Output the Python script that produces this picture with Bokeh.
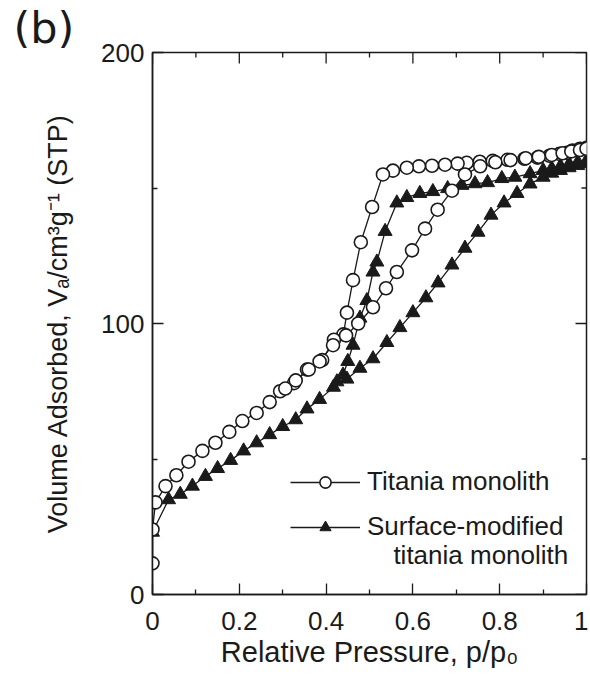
from bokeh.plotting import figure
from bokeh.models import FixedTicker, Range1d, Legend, LegendItem, Label, Title
from bokeh.embed import file_html
from bokeh.resources import INLINE

# ---- data ----
ti_ads_x = [0.0, 0.0, 0.007, 0.030, 0.055, 0.083, 0.115, 0.145, 0.177, 0.207, 0.240, 0.270,
            0.306, 0.330, 0.360, 0.385, 0.416, 0.446, 0.474, 0.508, 0.538, 0.563, 0.598, 0.628,
            0.657, 0.690, 0.720, 0.755, 0.790, 0.825, 0.860, 0.890, 0.920, 0.945, 0.965, 0.985, 1.0]
ti_ads_y = [11.5, 24, 34, 40, 44, 49, 53, 56, 60, 64, 67, 71,
            76, 79, 83, 86, 92, 95.6, 100, 106, 113, 119, 127, 135,
            142, 149, 155, 158, 159.5, 160.3, 161, 161.5, 162.2, 162.8, 163.5, 164, 164.5]

ti_des_x = [1.0, 0.985, 0.968, 0.955, 0.938, 0.915, 0.887, 0.857, 0.818, 0.784, 0.754, 0.724,
            0.703, 0.674, 0.644, 0.614, 0.586, 0.554, 0.531, 0.506, 0.480, 0.462, 0.448, 0.440,
            0.418, 0.391, 0.356, 0.326, 0.294]
ti_des_y = [164.8, 164.5, 163.8, 163, 162.6, 161.9, 161.2, 160.8, 160.4, 160, 159.7, 159.3,
            159, 158.6, 158.2, 158, 157.5, 156.4, 155, 143, 130, 116, 104, 96,
            94, 86.5, 83, 78, 75]

sm_ads_x = [0.0, 0.037, 0.064, 0.092, 0.122, 0.150, 0.180, 0.210, 0.240, 0.270, 0.300, 0.330,
            0.356, 0.385, 0.417, 0.448, 0.478, 0.508, 0.540, 0.570, 0.600, 0.630, 0.658, 0.690,
            0.720, 0.750, 0.780, 0.810, 0.840, 0.870, 0.900, 0.920, 0.940, 0.960, 0.980, 1.0]
sm_ads_y = [23, 35, 37, 40, 43.6, 46.5, 49.5, 53, 56, 59, 62, 64.5,
            68.5, 72, 76.5, 79.5, 83.5, 87, 93, 98.5, 104, 109.5, 115, 121.6,
            127.8, 133.7, 140, 144.5, 148, 151.5, 154, 155.5, 156.5, 157.5, 158.3, 159]

sm_des_x = [1.0, 0.98, 0.96, 0.94, 0.92, 0.90, 0.87, 0.835, 0.805, 0.772, 0.743, 0.713,
            0.680, 0.646, 0.616, 0.586, 0.563, 0.536, 0.517, 0.508, 0.494, 0.478, 0.462, 0.450,
            0.439, 0.425]
sm_des_y = [160, 159.5, 158.8, 158, 157.2, 156.5, 155.3, 154, 153.5, 152, 151.6, 151,
            149.8, 148.7, 148, 146.5, 144.5, 134, 122.7, 119, 108.5, 102, 92, 86,
            81, 78.5]

x_ticks = [0, 0.2, 0.4, 0.6, 0.8, 1.0]
x_tick_labels = ["0", "0.2", "0.4", "0.6", "0.8", "1"]
x_minor = [0.1, 0.3, 0.5, 0.7, 0.9]
y_ticks = [0, 100, 200]
y_tick_labels = ["0", "100", "200"]
y_minor = [50, 150]

series_names = ["Titania monolith", "Surface-modified", "titania monolith"]
x_title = "Relative Pressure, p/p\u2080"
y_title = "Volume Adsorbed, V\u2090/cm\u00b3g\u207b\u00b9 (STP)"
panel_tag = "(b)"

FONT = "Liberation Sans"
INK = "#1a1a1a"

W, H = 588, 670
BL, BR, BT, BB = 152, 2, 51, 73
X0, X1, Y0, Y1 = 0, 1, 0, 200
MAJ, MIN = 11, 5

p = figure(width=W, height=H, output_backend="svg", toolbar_location=None,
           x_range=Range1d(X0, X1), y_range=Range1d(Y0, Y1),
           min_border_left=BL, min_border_right=BR, min_border_top=BT, min_border_bottom=BB)
p.grid.visible = False
p.outline_line_color = INK
p.outline_line_width = 1.5
p.background_fill_color = "white"
p.border_fill_color = "white"

# panel tag "(b)" as the title
p.title.text = panel_tag
p.title.align = "left"
p.title.offset = -139
p.title.standoff = 0
p.title.text_font = "DejaVu Sans"
p.title.text_font_size = "43px"
p.title.text_font_style = "normal"
p.title.text_color = INK

def style_axis(ax, ticks, minor, labels):
    ax.ticker = FixedTicker(ticks=ticks, minor_ticks=minor)
    ax.major_tick_in = MAJ
    ax.major_tick_out = 0
    ax.minor_tick_in = MIN
    ax.minor_tick_out = 0
    ax.major_tick_line_color = INK
    ax.minor_tick_line_color = INK
    ax.major_tick_line_width = 1.3
    ax.minor_tick_line_width = 1.3
    ax.axis_line_color = INK
    ax.axis_line_width = 1.5
    ax.major_label_overrides = {t: l for t, l in zip(ticks, labels)}
    ax.major_label_text_font = FONT
    ax.major_label_text_font_size = "26px"
    ax.major_label_text_color = INK

style_axis(p.xaxis[0], x_ticks, x_minor, x_tick_labels)
style_axis(p.yaxis[0], y_ticks, y_minor, y_tick_labels)
p.xaxis.major_label_standoff = 17
p.yaxis.major_label_standoff = 8

p.xaxis.axis_label = x_title
p.xaxis.axis_label_text_font = FONT
p.xaxis.axis_label_text_font_size = "29px"
p.xaxis.axis_label_text_font_style = "normal"
p.xaxis.axis_label_text_color = INK
p.xaxis.axis_label_standoff = 3

# y label as a left title (so it can be shifted along the axis)
p.add_layout(Title(text=y_title, align="center", offset=62, standoff=52,
                   text_font=FONT, text_font_size="27px", text_font_style="normal",
                   text_color=INK), "left")

# inward ticks on the top and right edges
fw = W - BL - BR
fh = H - BT - BB
dy_maj = MAJ * (Y1 - Y0) / fh
dy_min = MIN * (Y1 - Y0) / fh
dx_maj = MAJ * (X1 - X0) / fw
dx_min = MIN * (X1 - X0) / fw
p.segment(x0=x_ticks, y0=[Y1] * len(x_ticks), x1=x_ticks, y1=[Y1 - dy_maj] * len(x_ticks),
          line_color=INK, line_width=1.3)
p.segment(x0=x_minor, y0=[Y1] * len(x_minor), x1=x_minor, y1=[Y1 - dy_min] * len(x_minor),
          line_color=INK, line_width=1.3)
p.segment(x0=[X1] * len(y_ticks), y0=y_ticks, x1=[X1 - dx_maj] * len(y_ticks), y1=y_ticks,
          line_color=INK, line_width=1.3)
p.segment(x0=[X1] * len(y_minor), y0=y_minor, x1=[X1 - dx_min] * len(y_minor), y1=y_minor,
          line_color=INK, line_width=1.3)

# ---- series ----
l1a = p.line(ti_ads_x, ti_ads_y, line_color=INK, line_width=1.3)
l1d = p.line(ti_des_x, ti_des_y, line_color=INK, line_width=1.3)
l2a = p.line(sm_ads_x, sm_ads_y, line_color=INK, line_width=1.3)
l2d = p.line(sm_des_x, sm_des_y, line_color=INK, line_width=1.3)
s2a = p.scatter(sm_ads_x, sm_ads_y, marker="triangle", size=14, fill_color=INK, line_color=INK, line_width=1)
s2d = p.scatter(sm_des_x, sm_des_y, marker="triangle", size=14, fill_color=INK, line_color=INK, line_width=1)
s1d = p.scatter(ti_des_x, ti_des_y, marker="circle", size=13, fill_color="white", line_color=INK, line_width=1.6)
s1a = p.scatter(ti_ads_x, ti_ads_y, marker="circle", size=13, fill_color="white", line_color=INK, line_width=1.6)

legend = Legend(items=[LegendItem(label=series_names[0], renderers=[l1a, s1a]),
                       LegendItem(label=series_names[1], renderers=[l2a, s2a])],
                location=(138, 52), glyph_width=70, glyph_height=28, label_height=28,
                spacing=14, padding=0, margin=0, label_standoff=7,
                border_line_color=None, background_fill_alpha=0,
                label_text_font=FONT, label_text_font_size="26px", label_text_color=INK)
p.add_layout(legend)

p.add_layout(Label(x=0.958, y=14.6, text=series_names[2], text_align="right", text_baseline="middle",
                   text_font=FONT, text_font_size="26px", text_color=INK))

open("out.html", "w").write(file_html(p, INLINE))
